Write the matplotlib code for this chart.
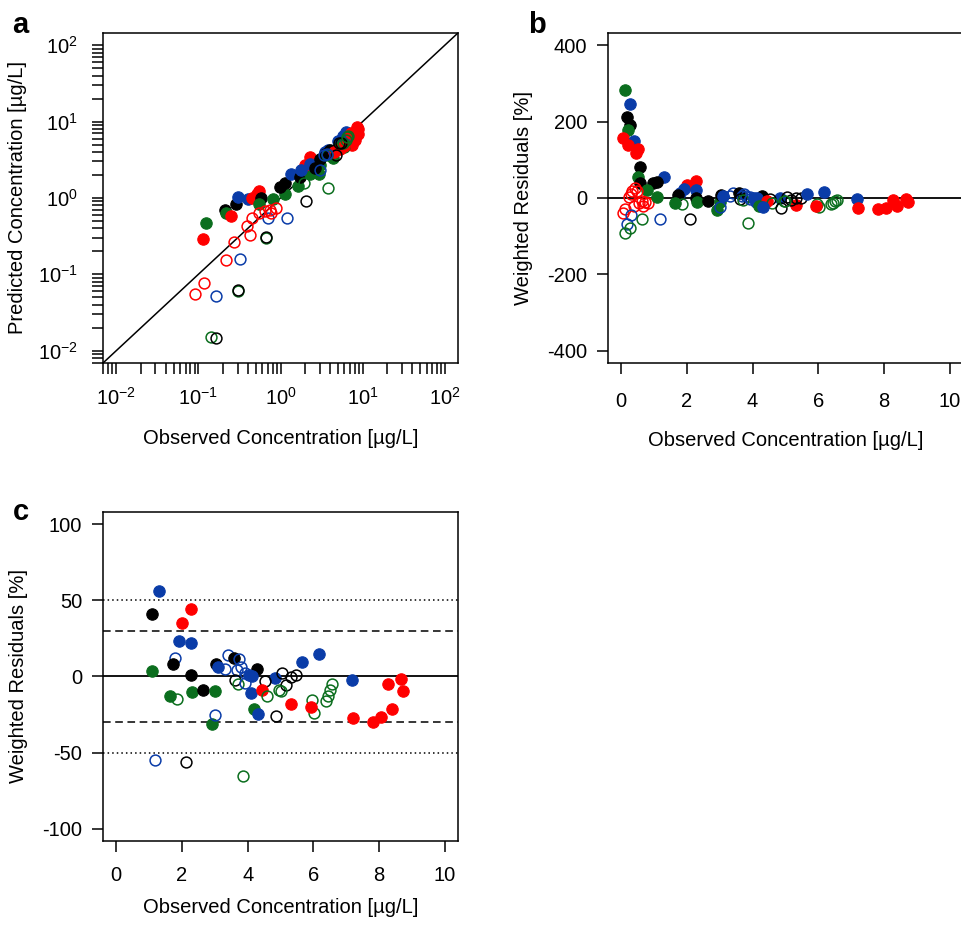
"""Goodness-of-fit panels: predicted vs observed (log-log), weighted residuals
over the whole range, and weighted residuals for observations above 1 ug/L."""
import matplotlib
matplotlib.use("Agg")
import matplotlib.pyplot as plt

plt.rcParams["font.family"] = ["Liberation Sans", "DejaVu Sans"]
plt.rcParams["mathtext.default"] = "regular"
plt.rcParams["axes.unicode_minus"] = False

COLORS = {"red": "#FF0000", "black": "#000000", "blue": "#0A3CA8", "green": "#0B6E1E"}

# ---- panel a: observed vs predicted (ug/L) ----
a_obs = [0.124, 0.115, 0.21, 0.22, 0.25, 0.29, 0.30, 0.40, 0.45, 0.55, 0.52, 0.58,
         0.54, 0.81, 1.13, 0.98, 1.13, 1.33, 1.64, 1.72, 2.28, 2.94, 3.0, 1.98, 2.28,
         1.80, 3.47, 3.8, 4.37, 5.0, 5.8, 6.3, 4.1, 2.3, 8.55, 8.4, 8.0, 7.5, 8.8,
         8.7, 6.0, 5.0, 4.0, 3.5, 3.0, 5.3, 5.9, 4.45, 6.8, 7.2, 2.6,
         0.142, 0.163, 0.091, 0.117, 0.166, 0.30, 0.30, 0.22, 0.32, 0.27, 0.42, 0.66,
         0.67, 0.39, 0.45, 0.71, 1.21, 0.54, 0.65, 0.74, 0.88, 0.76, 2.07, 1.94, 3.8,
         3.0, 4.7, 3.7, 6.3, 5.8, 6.6, 5.2, 5.4, 3.4, 3.7, 6.5]
a_pred = [0.47, 0.29, 0.69, 0.63, 0.58, 0.83, 1.04, 0.98, 1.0, 1.24, 1.12, 1.0,
          0.83, 0.96, 1.13, 1.41, 1.59, 2.08, 1.44, 1.88, 2.08, 2.08, 2.73, 2.67, 3.45,
          2.34, 3.97, 4.3, 3.34, 5.5, 6.45, 7.2, 4.1, 2.8, 8.6, 7.2, 5.8, 5.0, 7.9,
          6.8, 4.7, 4.5, 4.2, 3.8, 3.2, 4.4, 4.8, 4.05, 6.9, 7.1, 2.5,
          0.0152, 0.0145, 0.055, 0.076, 0.052, 0.061, 0.063, 0.156, 0.16, 0.268, 0.33, 0.30,
          0.31, 0.43, 0.54, 0.54, 0.54, 0.63, 0.68, 0.69, 0.73, 0.63, 0.92, 1.59, 1.34,
          2.34, 3.6, 3.6, 5.8, 5.3, 6.45, 5.2, 5.3, 3.6, 3.8, 6.2]
a_col = (["green", "red", "black", "green", "red", "black", "blue", "blue", "red", "red",
          "red", "black", "green", "green", "green", "black", "black", "blue", "green",
          "black", "green", "green", "green", "red", "red", "blue", "blue", "blue",
          "green", "blue", "blue", "blue", "blue", "blue", "red", "red", "red", "red",
          "red", "red", "green", "green", "black", "black", "black", "red", "red", "red",
          "blue", "red", "black"]
         + ["green", "black", "red", "red", "blue", "green", "black", "red", "blue", "red",
            "red", "green", "black", "red", "red", "blue", "blue", "red", "red", "red",
            "red", "red", "black", "green", "green", "blue", "black", "green", "green",
            "green", "green", "black", "black", "blue", "blue", "green"])
a_fill = [True] * 51 + [False] * 36

# ---- panel b only: observations below ~1 ug/L ----
low_obs = [0.11, 0.27, 0.18, 0.27, 0.21, 0.07, 0.40, 0.21, 0.52, 0.45, 0.57, 0.50,
           0.56, 0.98, 0.80,
           0.42, 0.34, 0.49, 0.23, 0.40, 0.74, 0.82, 0.68, 0.11, 0.06, 0.30, 0.55, 0.62,
           0.30, 0.17, 0.11, 0.27, 0.64]
low_res = [282, 247, 213, 192, 178, 156, 150, 139, 128, 117, 80, 56,
           39, 40, 21,
           25, 19, 17, 3.5, -20, -10, -14, -20, -30, -39, 10, -12, -8,
           -45, -67, -91, -78, -56]
low_col = ["green", "blue", "black", "black", "green", "red", "blue", "red", "red", "red",
           "black", "green", "black", "black", "green",
           "red", "red", "red", "red", "red", "red", "red", "red", "red", "red", "red",
           "red", "red", "blue", "blue", "green", "green", "green"]
low_fill = [True] * 15 + [False] * 18

# ---- panels b and c: observations above 1 ug/L ----
hi_obs = [1.31, 1.10, 2.29, 1.99, 1.91, 2.27, 1.78, 1.73, 1.10, 2.29, 1.63, 1.86, 2.32,
          2.63, 3.00, 3.04, 3.09, 3.31, 3.41, 3.59, 3.74, 3.80, 3.68, 3.92, 4.28, 3.61,
          3.72, 3.91, 4.09, 4.14, 4.05, 4.83, 4.53, 4.45, 4.60, 4.96, 5.33, 4.20, 4.33,
          4.86, 2.92, 3.00, 1.19, 2.11, 5.04, 5.18, 5.33, 5.46, 5.65, 6.17, 5.00, 6.58,
          6.52, 6.45, 6.37, 5.97, 6.02, 5.93, 7.18, 7.20, 7.81, 8.07, 8.38, 8.26, 8.66,
          8.72, 3.86]
hi_res = [56, 41, 44, 35, 23, 22, 12, 8, 3.5, 1, -12.5, -15, -10,
          -9, -9.5, 8, 6, 5, 14, 12, 11.5, 6, 4, 2, 4.6, -2.6,
          -4.8, -4, -11, 0.5, 1, -1, -2.8, -9, -13, -8.7, -18, -21.6, -24.5,
          -26, -31, -25, -55, -56, 2.4, -5.9, -0.4, 1.1, 9.4, 15, -9.2, -4.8,
          -8.7, -12.5, -16.4, -15.3, -24, -20, -2.4, -27.3, -30, -26.7, -21.4, -4.6, -1.5,
          -9.8, -65.6]
hi_col = ["blue", "black", "red", "red", "blue", "blue", "blue", "black", "green", "black",
          "green", "green", "green", "black", "green", "black", "blue", "blue", "blue",
          "black", "blue", "blue", "blue", "blue", "black", "black", "green", "blue",
          "blue", "blue", "blue", "blue", "black", "red", "green", "green", "red",
          "green", "blue", "black", "green", "blue", "blue", "black", "black", "black",
          "black", "black", "blue", "blue", "green", "green", "green", "green", "green",
          "green", "green", "red", "blue", "red", "red", "red", "red", "red", "red",
          "red", "green"]
hi_fill = [True, True, True, True, True, True, False, True, True, True,
           True, False, True, True, True, True, True, False, False,
           True, False, False, False, False, True, False, False, False,
           True, True, True, True, False, True, False, False, True,
           True, True, False, True, False, False, False, False, False,
           False, False, True, True, False, False, False, False, False,
           False, False, True, True, True, True, True, True, True, True,
           True, False]


def draw_points(ax, xs, ys, cols, fills):
    for x, y, c, f in zip(xs, ys, cols, fills):
        col = COLORS[c]
        if f:
            ax.plot(x, y, "o", ms=8.2, mfc=col, mec=col, mew=0.8, zorder=3)
        else:
            ax.plot(x, y, "o", ms=7.8, mfc="none", mec=col, mew=1.1, zorder=3)


def style(ax, xpad):
    for s in ax.spines.values():
        s.set_linewidth(1.1)
    ax.tick_params(which="both", direction="out", length=8, width=1.1,
                   labelsize=14.5)
    ax.tick_params(axis="x", which="both", pad=xpad)
    ax.tick_params(axis="y", which="both", pad=7)


fig = plt.figure(figsize=(9.62, 9.25), dpi=100)
axA = fig.add_axes([0.1071, 0.6076, 0.369, 0.3568])
axB = fig.add_axes([0.632, 0.6076, 0.369, 0.3568])
axC = fig.add_axes([0.1071, 0.0908, 0.369, 0.3557])

# ---- a ----
axA.set_xscale("log")
axA.set_yscale("log")
lim = (10 ** -2.16, 10 ** 2.16)
axA.set_xlim(lim)
axA.set_ylim(lim)
axA.axline((1, 1), (10, 10), color="black", lw=1.1, zorder=2)
draw_points(axA, a_obs, a_pred, a_col, a_fill)
axA.set_xticks([1e-2, 1e-1, 1, 10, 100])
axA.set_yticks([1e-2, 1e-1, 1, 10, 100])
style(axA, 9)
axA.tick_params(axis="y", which="both", pad=10)
axA.set_xlabel("Observed Concentration [µg/L]", fontsize=14.5, labelpad=15)
axA.set_ylabel("Predicted Concentration [µg/L]", fontsize=14.5, labelpad=8)

# ---- b ----
axB.set_xlim(-0.4, 10.4)
axB.set_ylim(-432, 432)
axB.axhline(0, color="black", lw=1.3, zorder=2)
draw_points(axB, low_obs, low_res, low_col, low_fill)
draw_points(axB, hi_obs, hi_res, hi_col, hi_fill)
axB.set_xticks([0, 2, 4, 6, 8, 10])
axB.set_yticks([-400, -200, 0, 200, 400])
style(axB, 13)
axB.set_xlabel("Observed Concentration [µg/L]", fontsize=14.5, labelpad=14)
axB.set_ylabel("Weighted Residuals [%]", fontsize=14.5, labelpad=10)

# ---- c ----
axC.set_xlim(-0.4, 10.4)
axC.set_ylim(-108, 108)
axC.axhline(0, color="black", lw=1.3, zorder=2)
for v in (30, -30):
    axC.axhline(v, color="black", lw=1.1, ls=(0, (5, 3)), zorder=2)
for v in (50, -50):
    axC.axhline(v, color="black", lw=1.1, ls=(0, (1, 2)), zorder=2)
draw_points(axC, hi_obs, hi_res, hi_col, hi_fill)
axC.set_xticks([0, 2, 4, 6, 8, 10])
axC.set_yticks([-100, -50, 0, 50, 100])
style(axC, 10)
axC.set_xlabel("Observed Concentration [µg/L]", fontsize=14.5, labelpad=9)
axC.set_ylabel("Weighted Residuals [%]", fontsize=14.5, labelpad=10)

for lbl, x, y in (("a", 0.013, 0.964), ("b", 0.549, 0.964), ("c", 0.013, 0.438)):
    fig.text(x, y, lbl, fontsize=21, fontweight="bold", va="baseline", ha="left")

fig.savefig("out.png", dpi=100)
